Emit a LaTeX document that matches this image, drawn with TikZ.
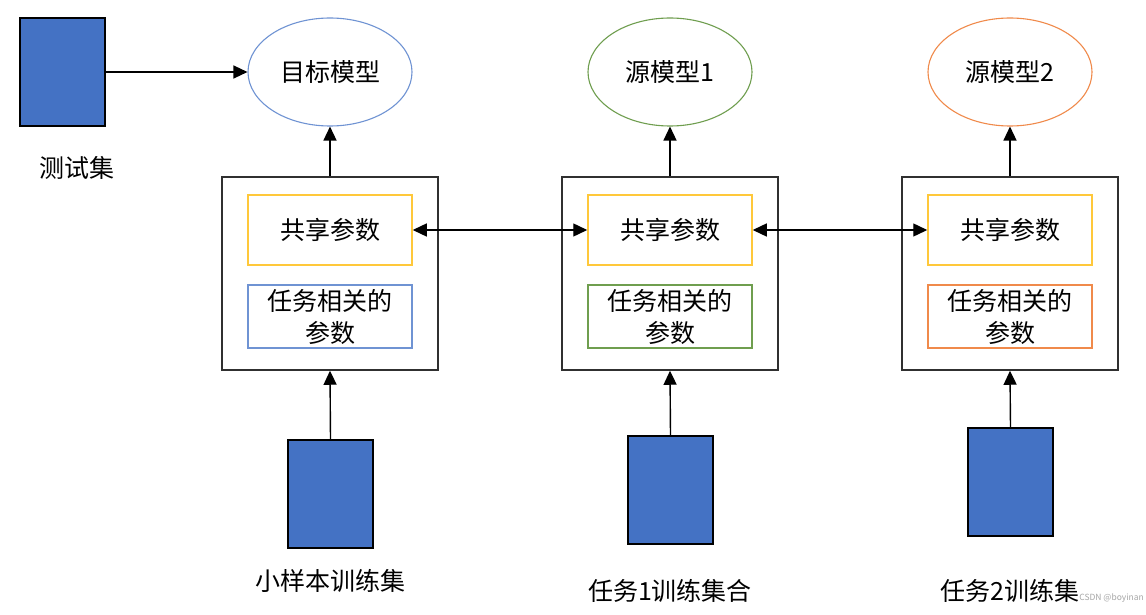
\documentclass[tikz,border=0pt]{standalone}
\usepackage{fontspec}
\setmainfont{Noto Sans CJK SC}
\usetikzlibrary{shapes.geometric,arrows.meta}
\definecolor{dblue}{HTML}{4472C4}
\definecolor{lblue}{HTML}{6F93D3}
\definecolor{lgreen}{HTML}{6F9E4F}
\definecolor{lorange}{HTML}{F08A4B}
\definecolor{lyellow}{HTML}{FFC83A}
\definecolor{frame}{HTML}{303030}
\tikzset{
  x=1pt, y=-1pt,
  txt/.style={font=\fontsize{25}{32}\selectfont, text=black},
  dataset/.style={draw=black, line width=1.2pt, fill=dblue, minimum width=85pt, minimum height=108pt, inner sep=0pt},
  model/.style={ellipse, line width=1.1pt, minimum width=164pt, minimum height=108pt, inner sep=0pt, txt},
  outerbox/.style={draw=frame, line width=1.5pt, minimum width=216pt, minimum height=193pt, inner sep=0pt},
  shared/.style={draw=lyellow, line width=1.5pt, minimum width=164pt, minimum height=70pt, inner sep=0pt, txt},
  taskp/.style={line width=1.5pt, minimum width=164pt, minimum height=63pt, inner sep=0pt, txt, align=center},
  lbl/.style={txt},
  arr/.style={line width=1.4pt, draw=black, -{Triangle[length=14pt,width=13pt]}},
  darr/.style={line width=1.4pt, draw=black, {Triangle[length=14pt,width=13pt]}-{Triangle[length=14pt,width=13pt]}},
}
\begin{document}
\begin{tikzpicture}
\useasboundingbox (0,0) rectangle (1146,615);
\fill[white] (0,0) rectangle (1146,615);
% test set
\node[dataset] (test) at (62.5,72) {};
\node[lbl] (testl) at (77,168) {测试集};
% models
\node[model, draw=lblue] (m0) at (330,72) {目标模型};
\node[model, draw=lgreen] (m1) at (670,72) {源模型1};
\node[model, draw=lorange] (m2) at (1010,72) {源模型2};
% outer boxes
\node[outerbox] (b0) at (330,273.5) {};
\node[outerbox] (b1) at (670,273.5) {};
\node[outerbox] (b2) at (1010,273.5) {};
% shared params
\node[shared] (s0) at (330,230) {共享参数};
\node[shared] (s1) at (670,230) {共享参数};
\node[shared] (s2) at (1010,230) {共享参数};
% task params
\node[taskp, draw=lblue] (t0) at (330,316.5) {任务相关的\\参数};
\node[taskp, draw=lgreen] (t1) at (670,316.5) {任务相关的\\参数};
\node[taskp, draw=lorange] (t2) at (1010,316.5) {任务相关的\\参数};
% training sets
\node[dataset] (d0) at (330.5,494) {};
\node[dataset] (d1) at (670.5,490) {};
\node[dataset] (d2) at (1010.5,482) {};
\node[lbl] (l0) at (330,581) {小样本训练集};
\node[lbl] (l1) at (670,591) {任务1训练集合};
\node[lbl] (l2) at (1010,591) {任务2训练集};
\node[font=\fontsize{8.5}{10}\selectfont, text=gray!70, anchor=east, inner sep=1pt] (wm) at (1145,598) {CSDN @boyinan};
% connectors
\draw[arr] (test.east) -- (m0.west);
\draw[arr] (b0.north) -- (m0.south);
\draw[arr] (b1.north) -- (m1.south);
\draw[arr] (b2.north) -- (m2.south);
\draw[darr] (s0.east) -- (s1.west);
\draw[darr] (s1.east) -- (s2.west);
\draw[arr] (d0.north) -- (b0.south);
\draw[arr] (d1.north) -- (b1.south);
\draw[arr] (d2.north) -- (b2.south);
\end{tikzpicture}
\end{document}
